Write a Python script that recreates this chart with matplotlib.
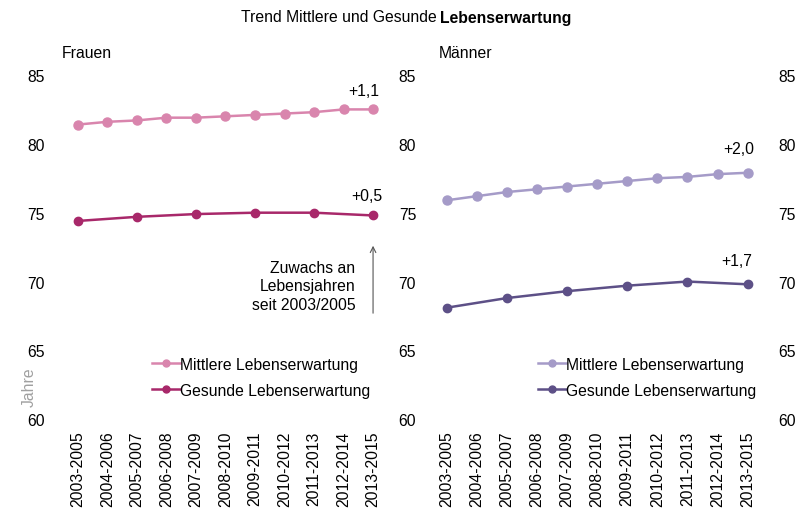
import matplotlib
matplotlib.use("Agg")
import matplotlib.pyplot as plt

plt.rcParams["font.family"] = ["Liberation Sans", "DejaVu Sans"]

perioden = ["2003-2005", "2004-2006", "2005-2007", "2006-2008", "2007-2009",
            "2008-2010", "2009-2011", "2010-2012", "2011-2013", "2012-2014",
            "2013-2015"]

frauen_mittlere = [81.4, 81.6, 81.7, 81.9, 81.9, 82.0, 82.1, 82.2, 82.3, 82.5, 82.5]
maenner_mittlere = [75.9, 76.2, 76.5, 76.7, 76.9, 77.1, 77.3, 77.5, 77.6, 77.8, 77.9]

gesund_idx = [0, 2, 4, 6, 8, 10]
frauen_gesunde = [74.4, 74.7, 74.9, 75.0, 75.0, 74.8]
maenner_gesunde = [68.1, 68.8, 69.3, 69.7, 70.0, 69.8]

zuwachs_frauen = ["+1,1", "+0,5"]
zuwachs_maenner = ["+2,0", "+1,7"]

yticks = [60, 65, 70, 75, 80, 85]

fs = 11.3
fig = plt.figure(figsize=(8.01, 5.10), dpi=100)
ax_f = fig.add_axes([0.077, 0.176, 0.409, 0.675])
ax_m = fig.add_axes([0.537, 0.176, 0.417, 0.675])


def style(ax, right=False):
    for s in ax.spines.values():
        s.set_visible(False)
    ax.set_ylim(60, 85)
    ax.set_yticks(yticks)
    ax.set_xlim(-0.55, 10.55)
    ax.set_xticks(range(len(perioden)))
    ax.set_xticklabels(perioden, rotation=90, fontsize=fs)
    ax.tick_params(length=0, labelsize=fs, pad=12)
    ax.tick_params(axis="x", pad=8)
    if right:
        ax.tick_params(axis="y", labelright=True, pad=10)


def panel(ax, mittlere, gesunde, c_mit, c_ges, labels, offs, leg_x):
    x = range(len(mittlere))
    ax.plot(x, mittlere, color=c_mit, lw=1.8, marker="o", ms=6.5,
            label="Mittlere Lebenserwartung")
    ax.plot(gesund_idx, gesunde, color=c_ges, lw=1.8, marker="o", ms=6,
            label="Gesunde Lebenserwartung")
    ax.annotate(labels[0], xy=(x[-1], mittlere[-1]), xytext=offs[0],
                textcoords="offset pixels", ha="center", va="center", fontsize=fs)
    ax.annotate(labels[1], xy=(gesund_idx[-1], gesunde[-1]), xytext=offs[1],
                textcoords="offset pixels", ha="center", va="center", fontsize=fs)
    leg = ax.legend(loc="lower right", bbox_to_anchor=(leg_x, 0.035), frameon=False,
                    fontsize=fs, handlelength=1.8, handletextpad=0.0,
                    labelspacing=0.7, borderaxespad=0.2)
    for h in leg.legend_handles:
        h.set_markersize(5)


style(ax_f)
style(ax_m, right=True)

panel(ax_f, frauen_mittlere, frauen_gesunde, "#d985ad", "#a8286a",
      zuwachs_frauen, [(-9, 19), (-6, 20)], 0.97)
panel(ax_m, maenner_mittlere, maenner_gesunde, "#a59bc8", "#5d5087",
      zuwachs_maenner, [(-9, 24), (-11, 24)], 1.006)

ax_f.annotate("", xy=(10, 72.8), xytext=(10, 67.5),
              arrowprops=dict(arrowstyle="->", color="#555555", lw=0.8))
ax_f.text(9.4, 69.7, "Zuwachs an\nLebensjahren\nseit 2003/2005", ha="right",
          va="center", fontsize=fs, linespacing=1.3)

ax_f.text(-0.1, 0.095, "Jahre", transform=ax_f.transAxes, rotation=90,
          ha="center", va="center", fontsize=fs, color="#a0a0a0")

ax_f.text(0.0, 1.065, "Frauen", transform=ax_f.transAxes, ha="left",
          va="center", fontsize=fs)
ax_m.text(0.025, 1.065, "Männer", transform=ax_m.transAxes, ha="left",
          va="center", fontsize=fs)

fig.text(437 / 801, 1 - 18 / 510, "Trend Mittlere und Gesunde", ha="right",
         va="center", fontsize=11.3)
fig.text(440 / 801, 1 - 18 / 510, "Lebenserwartung", ha="left", va="center",
         fontsize=11.3, fontweight="bold")

fig.savefig("out.png", dpi=100)
